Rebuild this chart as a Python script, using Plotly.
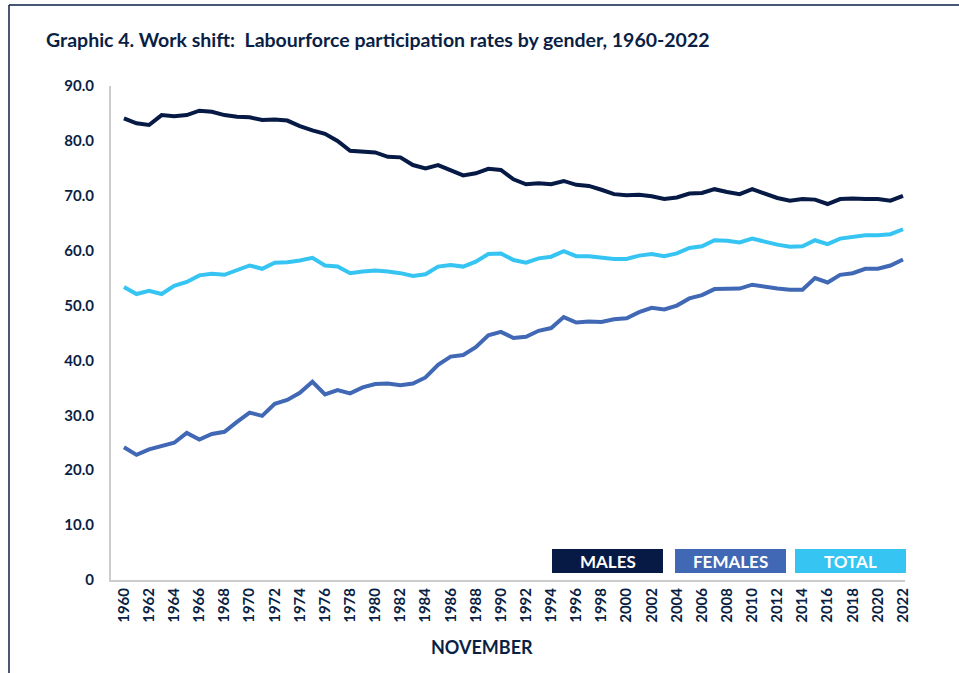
import plotly.graph_objects as go

years = list(range(1960, 2023))

males = [84.1, 83.2, 82.9, 84.7, 84.5, 84.7, 85.5, 85.3, 84.7, 84.4,
         84.3, 83.8, 83.9, 83.7, 82.7, 81.9, 81.3, 80.0, 78.2, 78.0,
         77.9, 77.1, 77.0, 75.6, 75.0, 75.6, 74.6, 73.7, 74.1, 74.9,
         74.7, 73.0, 72.1, 72.3, 72.1, 72.7, 72.0, 71.8, 71.1, 70.3,
         70.1, 70.2, 69.9, 69.4, 69.7, 70.4, 70.5, 71.2, 70.7, 70.3,
         71.2, 70.4, 69.6, 69.1, 69.4, 69.3, 68.5, 69.4, 69.5, 69.4,
         69.4, 69.1, 70.0]

females = [24.2, 22.8, 23.8, 24.4, 25.0, 26.8, 25.6, 26.6, 27.0, 28.8,
           30.5, 29.9, 32.1, 32.8, 34.1, 36.1, 33.8, 34.6, 34.0, 35.1,
           35.7, 35.8, 35.5, 35.8, 36.9, 39.2, 40.7, 41.0, 42.4, 44.6,
           45.2, 44.1, 44.3, 45.4, 45.9, 47.9, 46.9, 47.1, 47.0, 47.5,
           47.7, 48.8, 49.6, 49.3, 50.0, 51.3, 51.9, 53.0, 53.1, 53.1,
           53.8, 53.4, 53.1, 52.9, 52.9, 55.0, 54.2, 55.6, 55.9, 56.7,
           56.7, 57.3, 58.4]

total = [53.4, 52.1, 52.7, 52.1, 53.6, 54.3, 55.5, 55.8, 55.6, 56.5,
         57.3, 56.7, 57.8, 57.9, 58.2, 58.7, 57.3, 57.1, 55.9, 56.2,
         56.4, 56.2, 55.9, 55.4, 55.7, 57.1, 57.4, 57.1, 58.0, 59.4,
         59.5, 58.3, 57.8, 58.6, 58.9, 59.9, 59.0, 59.0, 58.7, 58.5,
         58.5, 59.1, 59.4, 59.0, 59.5, 60.5, 60.8, 61.9, 61.8, 61.5,
         62.2, 61.6, 61.1, 60.7, 60.8, 61.9, 61.2, 62.2, 62.5, 62.8,
         62.8, 63.0, 63.9]

x_ticks = list(range(1960, 2023, 2))
y_ticks = [0, 10, 20, 30, 40, 50, 60, 70, 80, 90]
y_tick_labels = ["0", "10.0", "20.0", "30.0", "40.0", "50.0", "60.0", "70.0", "80.0", "90.0"]

series_names = ["MALES", "FEMALES", "TOTAL"]
series_colors = ["#061a45", "#4068b5", "#36c4f2"]
navy = "#0b1f45"
font_family = "Lato, 'Noto Sans', sans-serif"

fig = go.Figure()
for name, vals, col in zip(series_names, [males, females, total], series_colors):
    fig.add_trace(go.Scatter(x=years, y=vals, mode="lines", name=name,
                             line=dict(color=col, width=4), showlegend=False))

fig.update_layout(
    width=959, height=673,
    margin=dict(l=111, r=54, t=86, b=93),
    paper_bgcolor="white", plot_bgcolor="white",
    font=dict(family=font_family, color=navy),
    title=dict(text="<b>Graphic 4. Work shift:  Labourforce participation rates by gender, 1960-2022</b>",
               x=46 / 959, xanchor="left", y=1 - 40 / 673, yanchor="middle",
               font=dict(size=19.5, color=navy, family=font_family)),
)

fig.update_xaxes(
    range=[1958.97, 2022.16], tickmode="array", tickvals=x_ticks,
    ticktext=[f"<b>{v}</b>" for v in x_ticks], tickangle=-90,
    tickfont=dict(size=15, color=navy), showgrid=False, zeroline=False,
    showline=True, linecolor="#cccccc", linewidth=2, ticks="",
)
fig.update_yaxes(
    range=[0, 90], tickmode="array", tickvals=y_ticks,
    ticktext=[f"<b>{t}</b>" for t in y_tick_labels],
    tickfont=dict(size=15, color=navy), showgrid=False, zeroline=False,
    showline=True, linecolor="#cccccc", linewidth=2, ticks="", ticklabelstandoff=12,
)

# Axis title
fig.add_annotation(text="<b>NOVEMBER</b>", xref="paper", yref="paper",
                   x=(482 - 111) / 794, y=-(647 - 580) / 494, showarrow=False,
                   font=dict(size=18, color=navy), xanchor="center", yanchor="middle")

# Legend boxes
box_lefts = [552, 675, 795]
box_w = 111
for name, col, left in zip(series_names, series_colors, box_lefts):
    x0 = (left - 111) / 794
    x1 = (left + box_w - 111) / 794
    y0 = (580 - 573) / 494
    y1 = (580 - 549) / 494
    fig.add_shape(type="rect", xref="paper", yref="paper", x0=x0, x1=x1, y0=y0, y1=y1,
                  fillcolor=col, line=dict(width=0), layer="above")
    fig.add_annotation(text=f"<b>{name}</b>", xref="paper", yref="paper", x=(x0 + x1) / 2, y=(y0 + y1) / 2,
                       showarrow=False, font=dict(size=17, color="white"),
                       xanchor="center", yanchor="middle")

# Page border (top and left)
fig.add_shape(type="line", xref="paper", yref="paper",
              x0=(9 - 111) / 794, x1=(959 - 111) / 794, y0=(580 - 5) / 494, y1=(580 - 5) / 494,
              line=dict(color=navy, width=1.5))
fig.add_shape(type="line", xref="paper", yref="paper",
              x0=(9 - 111) / 794, x1=(9 - 111) / 794, y0=(580 - 5) / 494, y1=-(680 - 580) / 494,
              line=dict(color=navy, width=1.5))

fig.write_html("out.html", config={"displayModeBar": False},
               post_script="document.body.style.margin='0';document.body.style.overflow='hidden';")
